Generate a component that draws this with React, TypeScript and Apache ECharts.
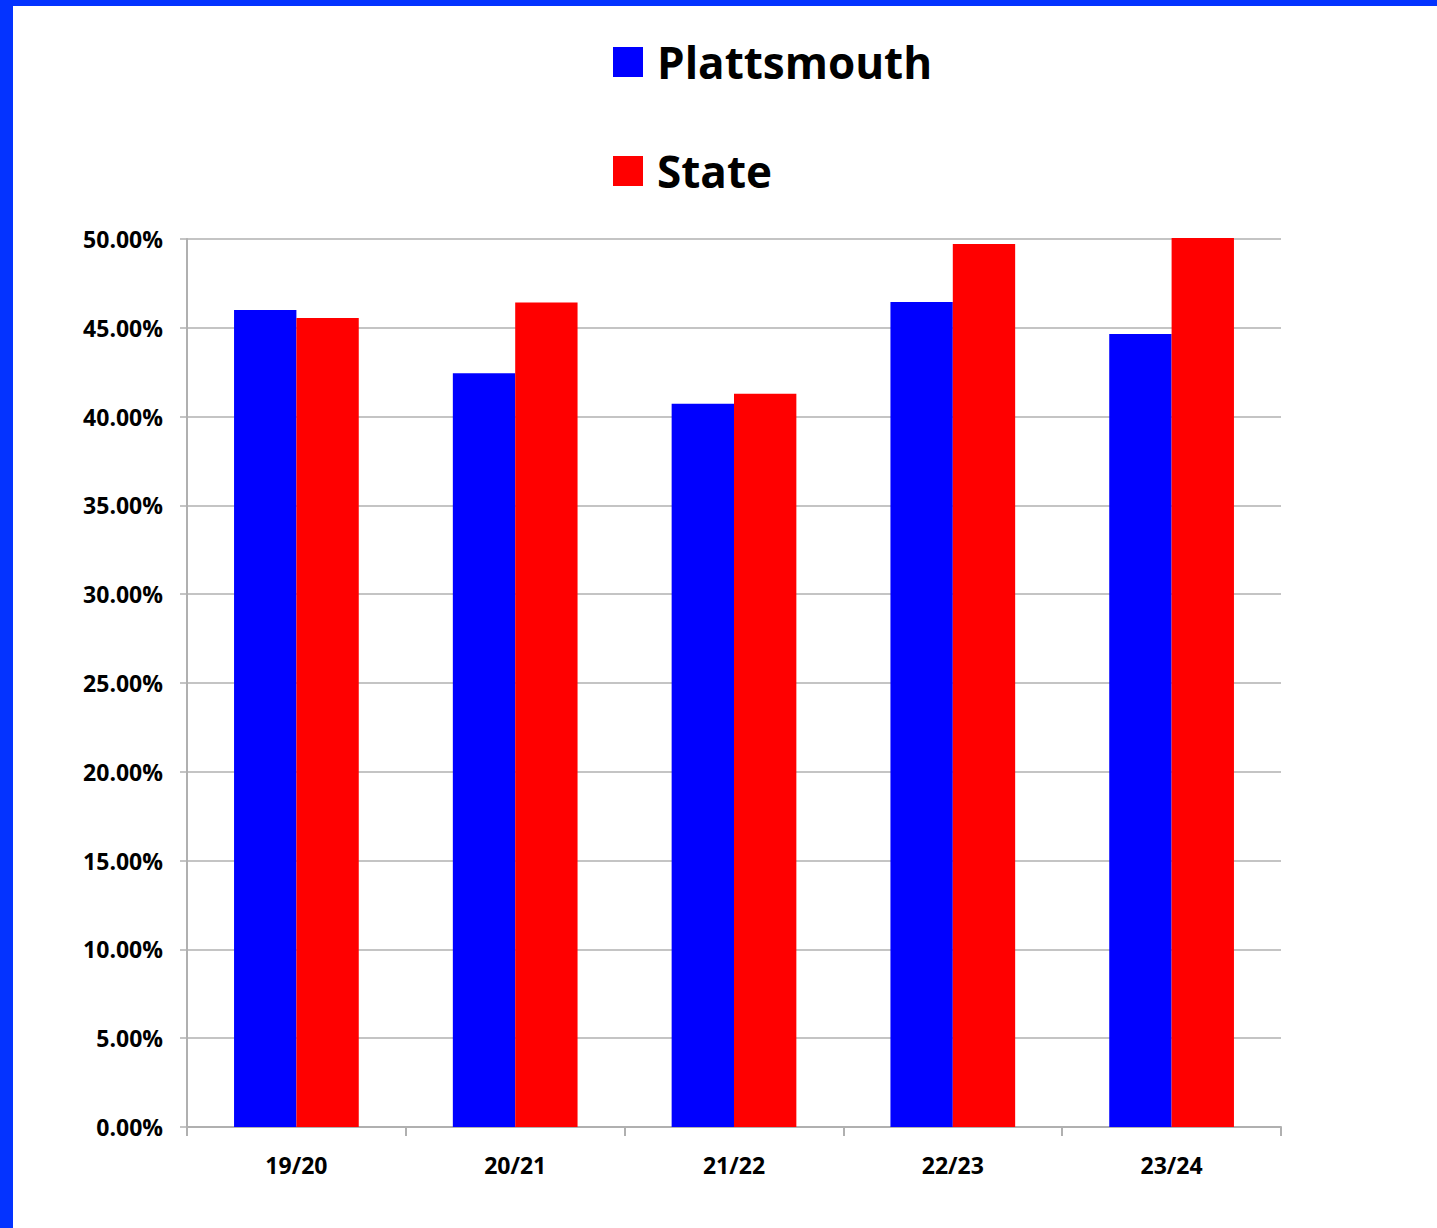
import React, { useEffect, useRef } from "react";
import * as echarts from "echarts";

const categories = ["19/20", "20/21", "21/22", "22/23", "23/24"];
const plattsmouth = [46.0, 42.44, 40.72, 46.45, 44.65];
const state = [45.55, 46.42, 41.28, 49.72, 50.05];
const yTicks = [0, 5, 10, 15, 20, 25, 30, 35, 40, 45, 50];

const FONT = "'Open Sans', sans-serif";

export default function App() {
  const ref = useRef<HTMLDivElement>(null);
  useEffect(() => {
    if (!ref.current) return;
    const chart = echarts.init(ref.current, undefined, { renderer: "svg" });
    chart.setOption({
      animation: false,
      backgroundColor: "#ffffff",
      graphic: [
        { type: "rect", left: 0, top: 0, shape: { width: 1437, height: 6 }, style: { fill: "#0433ff" }, silent: true },
        { type: "rect", left: 0, top: 0, shape: { width: 13, height: 1228 }, style: { fill: "#0433ff" }, silent: true },
      ],
      legend: {
        orient: "vertical",
        left: 613,
        top: 40,
        padding: 0,
        itemWidth: 30,
        itemHeight: 30,
        itemGap: 65,
        icon: "rect",
        textStyle: {
          fontFamily: FONT,
          fontWeight: "bold",
          fontSize: 44,
          color: "#000",
          padding: [0, 0, 0, 9],
        },
        data: ["Plattsmouth", "State"],
      },
      grid: { left: 187, right: 156, top: 239, bottom: 101, containLabel: false },
      xAxis: {
        type: "category",
        data: categories,
        axisLine: { show: true, lineStyle: { color: "#b0b0b0", width: 2 } },
        axisTick: { show: true, length: 9, lineStyle: { color: "#b0b0b0", width: 2 } },
        axisLabel: {
          margin: 26,
          fontFamily: FONT,
          fontWeight: "bold",
          fontSize: 23,
          color: "#000",
        },
      },
      yAxis: {
        type: "value",
        min: yTicks[0],
        max: yTicks[yTicks.length - 1],
        interval: 5,
        axisLine: { show: true, lineStyle: { color: "#b0b0b0", width: 2 } },
        axisTick: { show: true, length: 7, lineStyle: { color: "#b0b0b0", width: 1.5 } },
        splitLine: { show: true, lineStyle: { color: "#b0b0b0", width: 1.5 } },
        axisLabel: {
          margin: 24,
          fontFamily: FONT,
          fontWeight: "bold",
          fontSize: 23,
          color: "#000",
          formatter: (v: number) => v.toFixed(2) + "%",
        },
      },
      series: [
        {
          name: "Plattsmouth",
          type: "bar",
          data: plattsmouth,
          itemStyle: { color: "#0000ff" },
          barGap: "0%",
          barCategoryGap: "43%",
          clip: false,
        },
        {
          name: "State",
          type: "bar",
          data: state,
          itemStyle: { color: "#ff0000" },
          barGap: "0%",
          barCategoryGap: "43%",
          clip: false,
        },
      ],
    });
    return () => chart.dispose();
  }, []);
  return (
    <div
      ref={ref}
      style={{ position: "absolute", left: 0, top: 0, width: 1437, height: 1228 }}
    />
  );
}
